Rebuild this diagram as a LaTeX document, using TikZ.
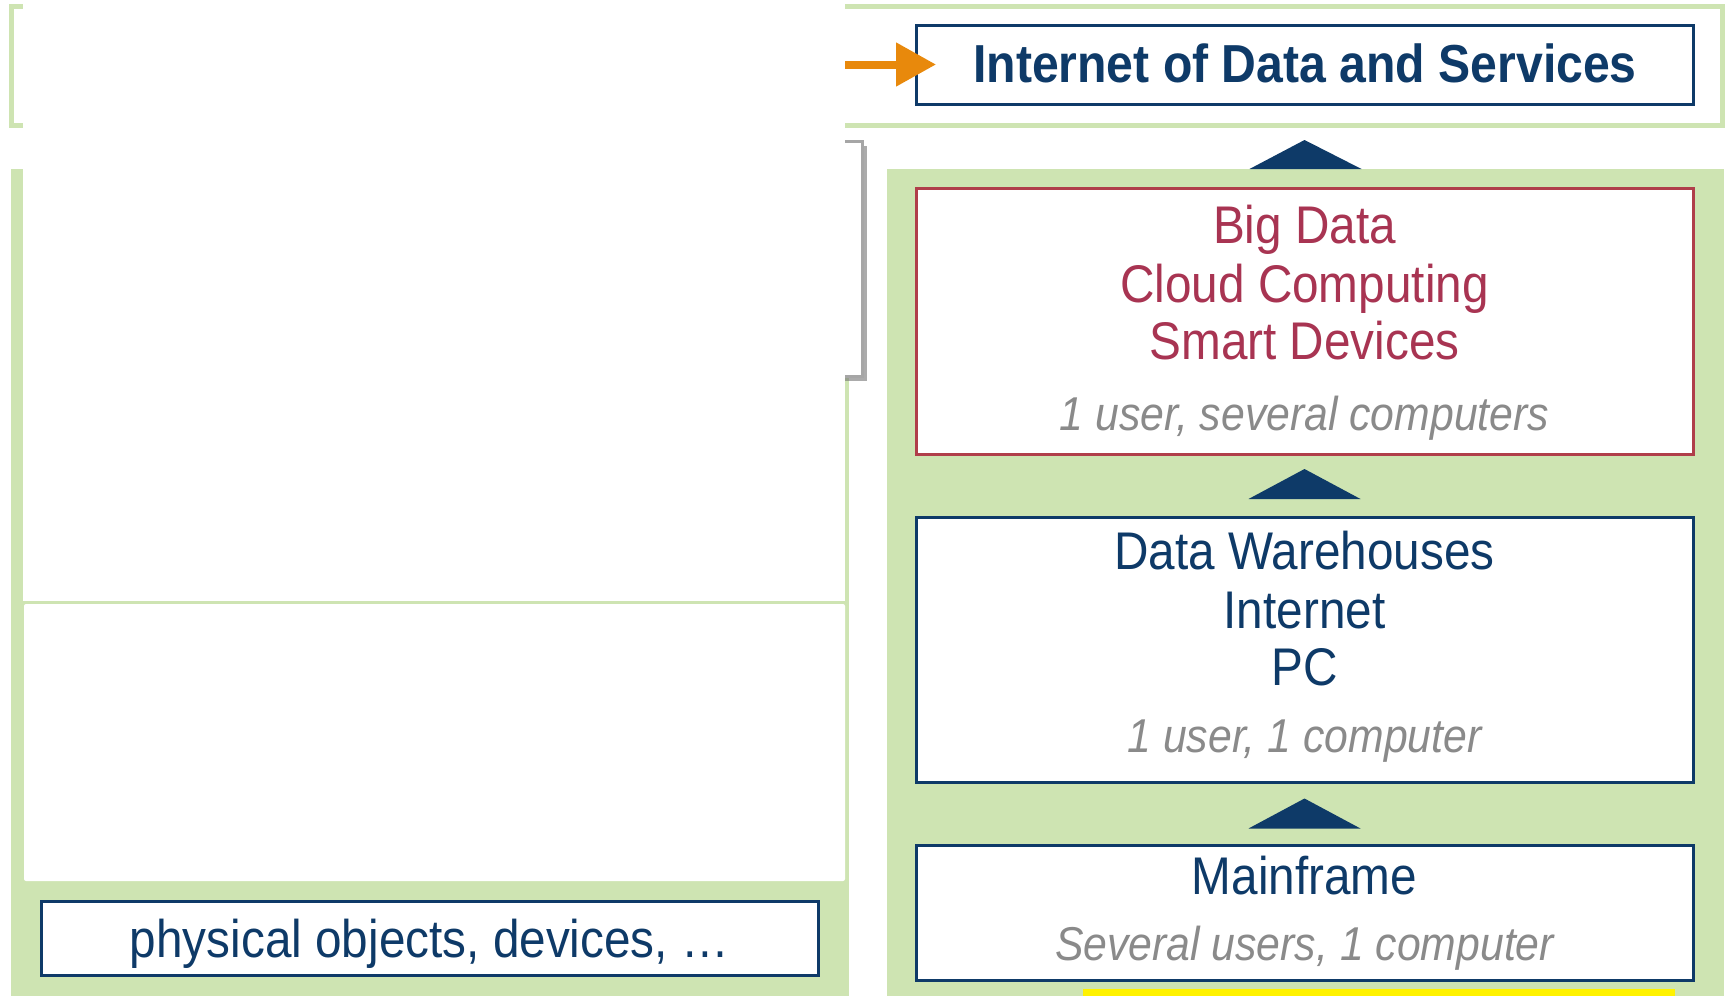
\documentclass[tikz,border=0pt]{standalone}
\usepackage{fontspec}
\setmainfont{Liberation Sans}[FakeStretch=0.9]
\usetikzlibrary{arrows.meta,shadows,calc}
\definecolor{lgreen}{RGB}{206,228,178}
\definecolor{navy}{RGB}{14,58,104}
\definecolor{crimson}{RGB}{168,52,82}
\definecolor{redline}{RGB}{176,62,74}
\definecolor{itgray}{RGB}{138,138,138}
\definecolor{orangeA}{RGB}{232,137,12}
\begin{document}
\begin{tikzpicture}[x=1pt,y=-1pt,
  panel/.style={fill=lgreen, inner sep=0pt, outer sep=0pt},
  box/.style={draw=navy, line width=3pt, fill=white, inner sep=0pt, outer sep=0pt,
    minimum width=777pt,
    drop shadow={shadow xshift=2pt, shadow yshift=-2pt, fill=black!60, opacity=0.5}},
  redbox/.style={box, draw=redline},
  big/.style={font=\fontsize{53}{60}\selectfont, anchor=base, inner sep=0pt},
  bigbold/.style={font=\fontsize{53.5}{60}\selectfont\bfseries, anchor=base, inner sep=0pt, text=navy},
  small/.style={font=\fontsize{47.5}{54}\selectfont\itshape, anchor=base, inner sep=0pt, text=itgray},
  tri/.style={fill=navy}
]
\useasboundingbox (0,0) rectangle (1727,996);
\fill[white] (0,0) rectangle (1727,996);

% top outline
\node[draw=lgreen, line width=5pt, minimum width=1711pt, minimum height=118.5pt, inner sep=0pt] (top) at (866.5,65.75) {};

% panels
\node[panel, minimum width=838pt, minimum height=827pt] (lpanel) at (430,582.5) {};
\node[panel, minimum width=837pt, minimum height=827pt] (rpanel) at (1305.5,582.5) {};

% gray shadowed box (mostly hidden)
\node[draw=black!35, line width=3pt, fill=white, inner sep=0pt,
  minimum width=362pt, minimum height=235pt,
  drop shadow={shadow xshift=5pt, shadow yshift=-5pt, fill=black!55, opacity=0.6}] (gbox) at (681,258.5) {};

% white covers
\fill[white] (23,-5) rectangle (845,601);
\fill[white, rounded corners=2pt] (24,604) rectangle (845,881);

% boxes
\node[box, minimum height=79pt] (idat) at (1304.5,64.5) {};
\node[redbox, minimum height=266pt] (bd) at (1304.5,321) {};
\node[box, minimum height=265pt] (dw) at (1304.5,649.5) {};
\node[box, minimum height=135pt] (mf) at (1304.5,912.5) {};
\node[box, minimum height=74pt] (phys) at (429.5,938) {};

% triangles
\fill[tri] ([yshift=-36pt]idat.south) -- ([xshift=56pt]rpanel.north) -- ([xshift=-56pt]rpanel.north) -- cycle;
\fill[tri] ([yshift=-15pt]bd.south) -- ([xshift=56pt,yshift=18pt]dw.north) -- ([xshift=-56pt,yshift=18pt]dw.north) -- cycle;
\fill[tri] ([yshift=-16.5pt]dw.south) -- ([xshift=56pt,yshift=16.5pt]mf.north) -- ([xshift=-56pt,yshift=16.5pt]mf.north) -- cycle;

% orange arrow
\coordinate (arrowtail) at (845,64.5);
\draw[orangeA, line width=8pt, -{Triangle[length=40pt,width=42pt]}] (arrowtail) -- ([xshift=20pt]idat.west);

% yellow bar
\fill[yellow] (1083,989) rectangle (1675,996);

% texts
\node[bigbold] (ttl) at (1305,82) {Internet of Data and Services};
\node[big, text=crimson] (bd1) at (1304.5,243) {Big Data};
\node[big, text=crimson] (bd2) at (1304.5,302) {Cloud Computing};
\node[big, text=crimson] (bd3) at (1304.5,359.5) {Smart Devices};
\node[small] (bd4) at (1304.5,430) {1 user, several computers};
\node[big, text=navy] (dw1) at (1304.5,569) {Data Warehouses};
\node[big, text=navy] (dw2) at (1304.5,628) {Internet};
\node[big, text=navy] (dw3) at (1304.5,685.5) {PC};
\node[small] (dw4) at (1304.5,752) {1 user, 1 computer};
\node[big, text=navy] (mf1) at (1304.5,894) {Mainframe};
\node[small] (mf2) at (1304.5,960) {Several users, 1 computer};
\node[big, text=navy] (ph) at (429.5,957) {physical objects, devices, …};
\end{tikzpicture}
\end{document}
